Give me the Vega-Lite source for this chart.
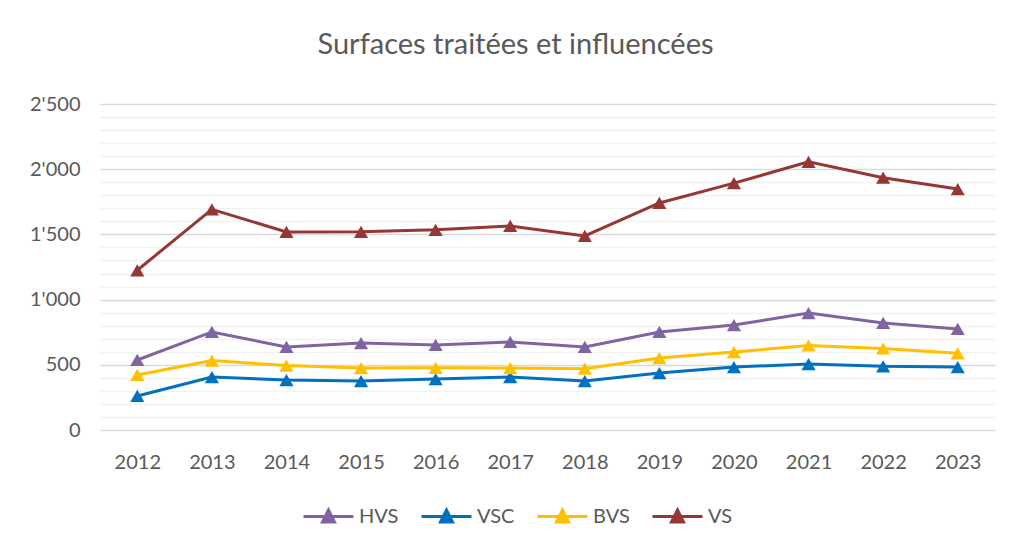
{
  "$schema": "https://vega.github.io/schema/vega-lite/v6.json",
  "width": 895,
  "height": 326,
  "autosize": {"type": "none"},
  "padding": {"left": 100, "top": 104, "right": 16, "bottom": 115},
  "background": "white",
  "title": {
    "text": "Surfaces traitées et influencées",
    "fontSize": 29,
    "font": "Lato",
    "fontWeight": "normal",
    "color": "#595959",
    "anchor": "middle",
    "dx": -32,
    "offset": 34
  },
  "config": {
    "view": {"stroke": null},
    "font": "Lato"
  },
  "data": {
    "values": [
      {"year": "2012", "series": "HVS", "value": 537},
      {"year": "2013", "series": "HVS", "value": 752},
      {"year": "2014", "series": "HVS", "value": 637},
      {"year": "2015", "series": "HVS", "value": 667},
      {"year": "2016", "series": "HVS", "value": 652},
      {"year": "2017", "series": "HVS", "value": 675},
      {"year": "2018", "series": "HVS", "value": 637},
      {"year": "2019", "series": "HVS", "value": 752},
      {"year": "2020", "series": "HVS", "value": 805},
      {"year": "2021", "series": "HVS", "value": 897},
      {"year": "2022", "series": "HVS", "value": 821},
      {"year": "2023", "series": "HVS", "value": 775},
      {"year": "2012", "series": "VSC", "value": 261},
      {"year": "2013", "series": "VSC", "value": 406},
      {"year": "2014", "series": "VSC", "value": 383},
      {"year": "2015", "series": "VSC", "value": 375},
      {"year": "2016", "series": "VSC", "value": 391},
      {"year": "2017", "series": "VSC", "value": 406},
      {"year": "2018", "series": "VSC", "value": 375},
      {"year": "2019", "series": "VSC", "value": 437},
      {"year": "2020", "series": "VSC", "value": 483},
      {"year": "2021", "series": "VSC", "value": 506},
      {"year": "2022", "series": "VSC", "value": 488},
      {"year": "2023", "series": "VSC", "value": 483},
      {"year": "2012", "series": "BVS", "value": 422},
      {"year": "2013", "series": "BVS", "value": 532},
      {"year": "2014", "series": "BVS", "value": 494},
      {"year": "2015", "series": "BVS", "value": 475},
      {"year": "2016", "series": "BVS", "value": 477},
      {"year": "2017", "series": "BVS", "value": 475},
      {"year": "2018", "series": "BVS", "value": 470},
      {"year": "2019", "series": "BVS", "value": 552},
      {"year": "2020", "series": "BVS", "value": 598},
      {"year": "2021", "series": "BVS", "value": 648},
      {"year": "2022", "series": "BVS", "value": 625},
      {"year": "2023", "series": "BVS", "value": 588},
      {"year": "2012", "series": "VS", "value": 1225},
      {"year": "2013", "series": "VS", "value": 1692},
      {"year": "2014", "series": "VS", "value": 1519},
      {"year": "2015", "series": "VS", "value": 1520},
      {"year": "2016", "series": "VS", "value": 1535},
      {"year": "2017", "series": "VS", "value": 1565},
      {"year": "2018", "series": "VS", "value": 1488},
      {"year": "2019", "series": "VS", "value": 1741},
      {"year": "2020", "series": "VS", "value": 1893},
      {"year": "2021", "series": "VS", "value": 2056},
      {"year": "2022", "series": "VS", "value": 1935},
      {"year": "2023", "series": "VS", "value": 1848}
    ]
  },
  "encoding": {
    "x": {
      "field": "year",
      "type": "ordinal",
      "scale": {"type": "point", "padding": 0.5},
      "axis": {
        "title": null,
        "labelAngle": 0,
        "labelFontSize": 20,
        "labelColor": "#595959",
        "labelPadding": 22,
        "ticks": false,
        "domain": false,
        "grid": false
      }
    },
    "y": {
      "field": "value",
      "type": "quantitative",
      "scale": {"domain": [0, 2500], "nice": false},
      "axis": {
        "title": null,
        "values": [0,100,200,300,400,500,600,700,800,900,1000,1100,1200,1300,1400,1500,1600,1700,1800,1900,2000,2100,2200,2300,2400,2500],
        "labelExpr": "datum.value % 500 === 0 ? replace(format(datum.value, ','), ',', \"'\") : ''",
        "labelFontSize": 20,
        "labelColor": "#595959",
        "labelPadding": 20,
        "ticks": false,
        "domain": false,
        "grid": true,
        "gridColor": {"condition": {"test": "datum.value % 500 === 0", "value": "#d9d9d9"}, "value": "#f2f2f2"},
        "gridWidth": 1.5
      }
    },
    "color": {
      "field": "series",
      "type": "nominal",
      "scale": {
        "domain": ["HVS", "VSC", "BVS", "VS"],
        "range": ["#8064a2", "#0070c0", "#ffc000", "#953735"]
      },
      "legend": {
        "title": null,
        "orient": "none",
        "direction": "horizontal",
        "legendX": 202,
        "legendY": 386,
        "symbolType": "M-1,0L1,0M-0.24,0.22L0,-0.26L0.24,0.22Z",
        "symbolSize": 2500,
        "symbolStrokeWidth": 3,
        "labelFontSize": 20,
        "labelColor": "#595959",
        "labelOffset": 4,
        "columnPadding": 16,
        "encode": {
          "symbols": {"update": {"fill": {"scale": "color", "field": "value"}, "stroke": {"scale": "color", "field": "value"}, "opacity": {"value": 1}}}
        }
      }
    }
  },
  "layer": [
    {"mark": {"type": "line", "strokeWidth": 3}},
    {"mark": {"type": "point", "shape": "triangle-up", "filled": true, "size": 200, "opacity": 1}}
  ]
}
